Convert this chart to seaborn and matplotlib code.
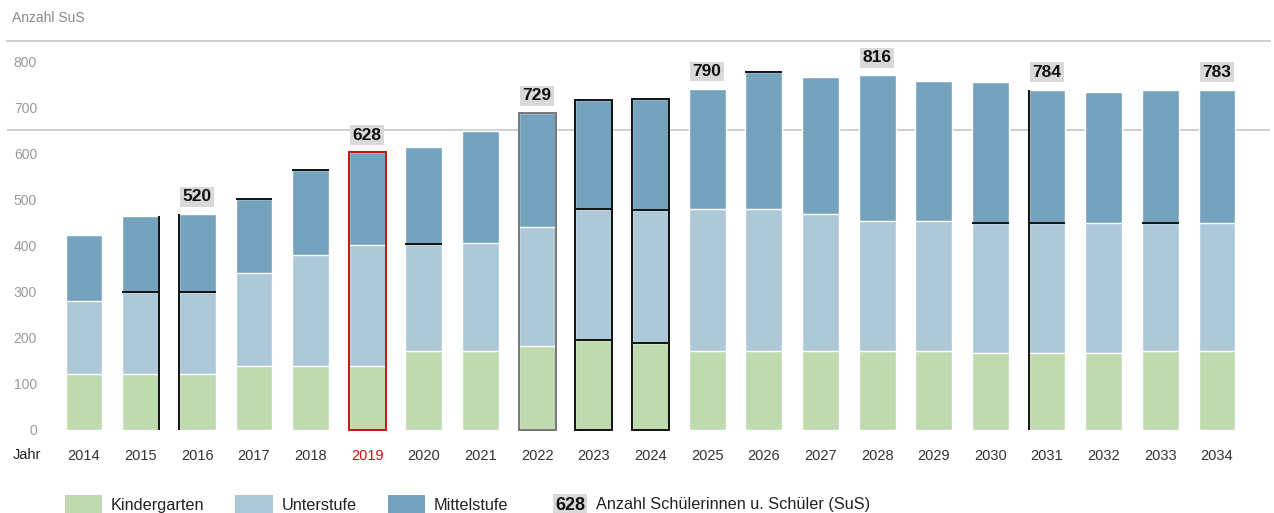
import matplotlib
matplotlib.use("Agg")
import matplotlib.pyplot as plt
import seaborn as sns
import pandas as pd
import numpy as np
from matplotlib.patches import Patch, Rectangle

# ---------------- data ----------------
years = ["2014", "2015", "2016", "2017", "2018", "2019", "2020", "2021", "2022", "2023", "2024",
         "2025", "2026", "2027", "2028", "2029", "2030", "2031", "2032", "2033", "2034"]
kindergarten = [121, 121, 121, 139, 139, 139, 171, 171, 183, 195, 188,
                171, 171, 171, 171, 171, 168, 168, 168, 171, 171]
unterstufe = [159, 179, 179, 202, 241, 262, 232, 234, 258, 284, 289,
              308, 308, 298, 283, 283, 282, 282, 280, 279, 279]
mittelstufe = [142, 165, 168, 161, 183, 201, 210, 244, 246, 236, 242,
               261, 297, 296, 316, 304, 305, 288, 286, 288, 288]
label_years = ["2016", "2019", "2022", "2025", "2028", "2031", "2034"]
label_values = [520, 628, 729, 790, 816, 784, 783]
series_names = ["Kindergarten", "Unterstufe", "Mittelstufe"]
legend_sample = "628"
legend_text = "Anzahl Schülerinnen u. Schüler (SuS)"
y_title = "Anzahl SuS"
x_title = "Jahr"
y_ticks = [0, 100, 200, 300, 400, 500, 600, 700, 800]
reference_level = 651
highlight_year = "2019"

# highlighted outlines seen in the reference (year, which edge)
outline_full = {"2019": "#cc1111", "2022": "#777777", "2023": "#111111", "2024": "#111111"}
boundary_lines = [("2015", "u"), ("2016", "u"), ("2017", "t"), ("2018", "t"), ("2020", "u"),
                  ("2026", "t"), ("2030", "u"), ("2031", "u"), ("2033", "u")]
side_lines = [("2015", "right"), ("2016", "left"), ("2031", "left")]

# ---------------- style ----------------
c_kg = "#bfdaae"
c_us = "#adc8d6"
c_ms = "#75a3bd"
label_bg = "#d9d9d9"
grid_c = "#cccccc"

sns.set_theme(style="white")
plt.rcParams["font.family"] = ["Liberation Sans", "DejaVu Sans"]

df = pd.DataFrame({"year": years, "kg": kindergarten, "us": unterstufe, "ms": mittelstufe})
df["lvl_k"] = df["kg"]
df["lvl_u"] = df["kg"] + df["us"]
df["lvl_t"] = df["lvl_u"] + df["ms"]

W, H = 1274, 513
fig = plt.figure(figsize=(W / 100, H / 100), dpi=100)
ax = fig.add_axes([7 / W, (H - 438) / H, (1270 - 7) / W, (438 - 41) / H])

bw = 0.65
sns.barplot(data=df, x="year", y="lvl_t", order=years, color=c_ms, saturation=1,
            width=bw, ax=ax, zorder=2)
sns.barplot(data=df, x="year", y="lvl_u", order=years, color=c_us, saturation=1,
            width=bw, ax=ax, zorder=2)
sns.barplot(data=df, x="year", y="lvl_k", order=years, color=c_ms, saturation=1,
            width=bw, ax=ax, zorder=2)
# recolor the last layer as kindergarten
for p in ax.patches[2 * len(years):]:
    p.set_facecolor(c_kg)

ax.set_xlim(-(84 - 7) / 56.65, len(years) - 1 + (1270 - 1217) / 56.65)
ax.set_ylim(-17.4, 843.8)

# reference line and top rule
ax.axhline(reference_level, color=grid_c, lw=1.3, zorder=1)
for s in ["left", "right", "bottom"]:
    ax.spines[s].set_visible(False)
ax.spines["top"].set_color(grid_c)
ax.spines["top"].set_linewidth(1.3)

# highlight outlines
pos = {y: i for i, y in enumerate(years)}
for yr, col in outline_full.items():
    i = pos[yr]
    r = df.iloc[i]
    ax.add_patch(Rectangle((i - bw / 2, 0), bw, r["lvl_t"], fill=False, ec=col, lw=1.4, zorder=3))
    if yr in ("2023", "2024"):
        ax.hlines([r["lvl_k"], r["lvl_u"]], i - bw / 2, i + bw / 2, color=col, lw=1.4, zorder=3)
for yr, lvl in boundary_lines:
    i = pos[yr]
    v = df.iloc[i]["lvl_" + lvl]
    ax.hlines(v, i - bw / 2, i + bw / 2, color="#111111", lw=1.4, zorder=3)
for yr, side in side_lines:
    i = pos[yr]
    xx = i + bw / 2 if side == "right" else i - bw / 2
    ax.vlines(xx, 0, df.iloc[i]["lvl_t"], color="#111111", lw=1.4, zorder=3)

# value labels
for yr, v in zip(label_years, label_values):
    i = pos[yr]
    ax.annotate(str(v), xy=(i, df.iloc[i]["lvl_t"]), xytext=(0, 12.5), textcoords="offset points",
                ha="center", va="center", fontsize=12.5, fontweight="bold", color="#111111",
                bbox=dict(boxstyle="square,pad=0.14", fc=label_bg, ec="none"), zorder=4)

# ticks
ax.set_yticks(y_ticks)
ax.set_yticklabels([str(t) for t in y_ticks])
ax.tick_params(axis="y", length=0, pad=-21.6, labelsize=10, labelcolor="#9a9a9a")
for lab in ax.get_yticklabels():
    lab.set_horizontalalignment("right")
ax.tick_params(axis="x", length=0, pad=8, labelsize=10.5, labelcolor="#333333")
for lab in ax.get_xticklabels():
    if lab.get_text() == highlight_year:
        lab.set_color("#cc1111")
ax.set_xlabel("")
ax.set_ylabel("")

fig.text(27 / W, 1 - 455 / H, x_title, ha="center", va="center", fontsize=10.5, color="#222222")
fig.text(12 / W, 1 - 18 / H, y_title, ha="left", va="center", fontsize=10, color="#8a8a8a")

# legend
handles = [Patch(fc=c_kg, ec="none"), Patch(fc=c_us, ec="none"), Patch(fc=c_ms, ec="none")]
fig.legend(handles, series_names, loc="center left", bbox_to_anchor=(50 / W, 1 - 505 / H),
           ncol=3, frameon=False, fontsize=11.7, handlelength=2.3, handleheight=1.6,
           handletextpad=0.55, columnspacing=1.9, labelcolor="#222222")
fig.text(570 / W, 1 - 505 / H, legend_sample, ha="center", va="center", fontsize=13,
         fontweight="bold", color="#111111",
         bbox=dict(boxstyle="square,pad=0.12", fc=label_bg, ec="none"))
fig.text(596 / W, 1 - 505 / H, legend_text, ha="left", va="center", fontsize=11.7, color="#222222")

fig.savefig("out.png", dpi=100)
